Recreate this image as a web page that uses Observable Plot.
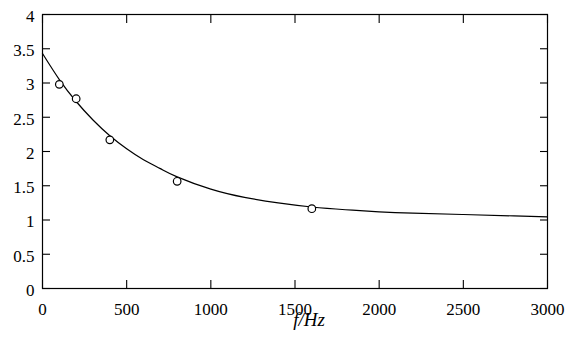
<!DOCTYPE html>
<html>
<head>
<meta charset="utf-8">
<script src="https://cdn.jsdelivr.net/npm/d3@7"></script>
<script src="https://cdn.jsdelivr.net/npm/@observablehq/plot@0.6"></script>
<style>
  html, body { margin: 0; padding: 0; background: white; }
  #chart svg, #chart svg text { font-family: "Liberation Serif", "DejaVu Serif", serif !important; }
</style>
</head>
<body>
<div id="chart"></div>
<script>
// Tick values
const xTicks = [0, 500, 1000, 1500, 2000, 2500, 3000];
const yTicks = [0, 0.5, 1, 1.5, 2, 2.5, 3, 3.5, 4];

// Measured points (circles)
const freq = [100, 200, 400, 800, 1600];
const measured = [2.98, 2.77, 2.17, 1.565, 1.165];

// Fitted curve
const fitF = [0, 100, 200, 300, 400, 500, 600, 700, 800, 1000, 1200, 1400, 1600, 1800, 2000, 2200, 2500, 2800, 3000];
const fitV = [3.43, 3.05, 2.73, 2.46, 2.23, 2.04, 1.88, 1.75, 1.63, 1.45, 1.33, 1.25, 1.19, 1.15, 1.12, 1.10, 1.08, 1.06, 1.045];

const xLabel = "f/Hz";

const points = freq.map((f, i) => ({f, v: measured[i]}));
const fit = fitF.map((f, i) => ({f, v: fitV[i]}));

const fmt = d => String(d);
const serif = "Liberation Serif";

const chart = Plot.plot({
  width: 566,
  height: 340,
  marginLeft: 42,
  marginRight: 19,
  marginTop: 14,
  marginBottom: 52,
  style: `font-family: '${serif}', serif; font-size: 17px; background: white; color: black;`,
  x: {domain: [0, 3000]},
  y: {domain: [0, 4]},
  marks: [
    Plot.frame({stroke: "black", strokeWidth: 1.2}),
    // inward ticks on all four sides
    Plot.axisX(xTicks, {anchor: "bottom", tickSize: -8, tickFormat: () => "", label: null, strokeWidth: 1.1}),
    Plot.axisX(xTicks, {anchor: "top", tickSize: -8, tickFormat: () => "", label: null, strokeWidth: 1.1}),
    Plot.axisY(yTicks, {anchor: "left", tickSize: -8, tickFormat: () => "", label: null, strokeWidth: 1.1}),
    Plot.axisY(yTicks, {anchor: "right", tickSize: -8, tickFormat: () => "", label: null, strokeWidth: 1.1}),
    // tick labels
    Plot.axisX(xTicks, {anchor: "bottom", tickSize: 0, tickPadding: 14, tickFormat: fmt, label: null, fontSize: 17, fontFamily: serif}),
    Plot.axisY(yTicks, {anchor: "left", tickSize: 0, tickPadding: 8, tickFormat: fmt, label: null, fontSize: 17, fontFamily: serif, dy: 2}),
    // fitted curve
    Plot.line(fit, {x: "f", y: "v", curve: "natural", stroke: "black", strokeWidth: 1.2}),
    // measured points
    Plot.dot(points, {x: "f", y: "v", r: 3.8, stroke: "black", fill: "white", strokeWidth: 1.2}),
    // axis label
    Plot.text([xLabel], {frameAnchor: "bottom", dx: 14, dy: 37, fontSize: 19, fontFamily: serif, fontStyle: "italic", text: d => d})
  ]
});

document.getElementById("chart").appendChild(chart);
</script>
</body>
</html>
